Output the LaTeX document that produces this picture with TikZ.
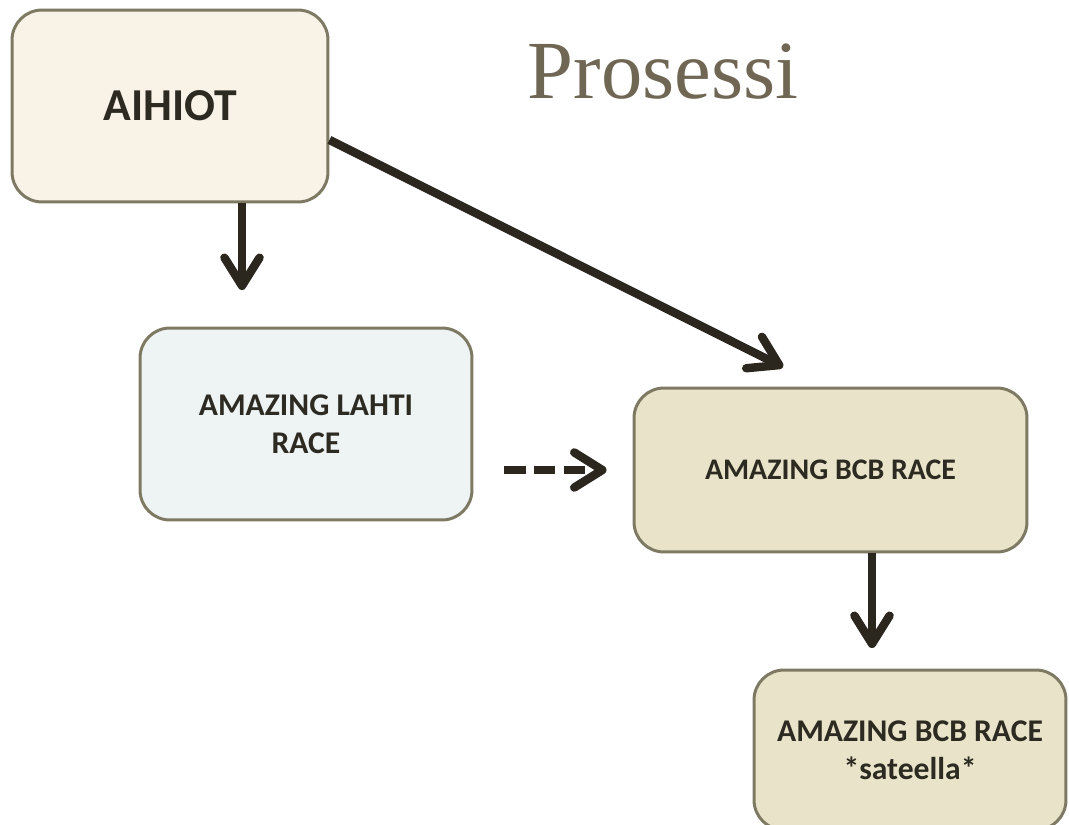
\documentclass[tikz,border=0pt]{standalone}
\usepackage{fontspec}
\setmainfont{Carlito}
\newfontfamily\titlefont{Liberation Serif}
\usepackage{xcolor}
\usepackage{tikz}
\usetikzlibrary{
	arrows.meta,
	positioning
}
\definecolor{BoxLine}{RGB}{126,121,99}
\definecolor{TextDark}{RGB}{45,42,34}
\definecolor{ArrowDark}{RGB}{43,39,31}
\definecolor{TitleGray}{RGB}{111,103,83}
\definecolor{CreamFill}{RGB}{248,242,231}
\definecolor{IceFill}{RGB}{238,243,244}
\definecolor{SandFill}{RGB}{233,228,201}

\tikzset{
	box/.style={draw=BoxLine, line width=1.7pt, rounded corners=0.6cm, align=center, inner sep=0pt, text=TextDark, font=\bfseries\fontsize{18}{21.5}\selectfont},
	flow/.style={draw=ArrowDark, line width=4.8pt, -{Straight Barb[length=16pt, width=20pt, line cap=round, line join=round]}}
}

\begin{document}
\begin{tikzpicture}[x=0.02cm, y=-0.02cm]
		\useasboundingbox (0,0) rectangle (1069,825);
		\clip (0,0) rectangle (1069,825);
		
		\node[font=\titlefont\fontsize{47}{47}\selectfont, text=TitleGray] (title) at (663,72) {Prosessi};
		
		\node[box, fill=CreamFill, minimum width=6.32cm, minimum height=3.84cm, font=\bfseries\fontsize{26}{30}\selectfont] (aihiot) at (170,106) {AIHIOT};
		\node[box, fill=IceFill, minimum width=6.64cm, minimum height=3.84cm] (lahti) at (306,424) {AMAZING LAHTI\\RACE};
		\node[box, fill=SandFill, minimum width=7.86cm, minimum height=3.28cm, font=\bfseries\fontsize{17}{20}\selectfont] (bcb) at (830.5,470) {AMAZING BCB RACE};
		\node[box, fill=SandFill, minimum width=6.24cm, minimum height=3.20cm] (rain) at (910,750) {AMAZING BCB RACE\\*sateella*};
		
		\coordinate (aihiotEnd) at (242,290);
		\coordinate (diagEnd) at (783,367);
		\coordinate (bcbEnd) at (872,648);
		
		\draw[flow] (aihiot.south -| aihiotEnd) -- (aihiotEnd);
		\draw[flow] (aihiot.-12) -- (diagEnd);
		\draw[flow, dash pattern=on 12pt off 5pt, shorten <=0.62cm, shorten >=0.52cm] (lahti.east |- bcb.west) -- (bcb.west); % dashed link
		\draw[flow] (bcb.south -| bcbEnd) -- (bcbEnd);
	\end{tikzpicture}
\end{document}
